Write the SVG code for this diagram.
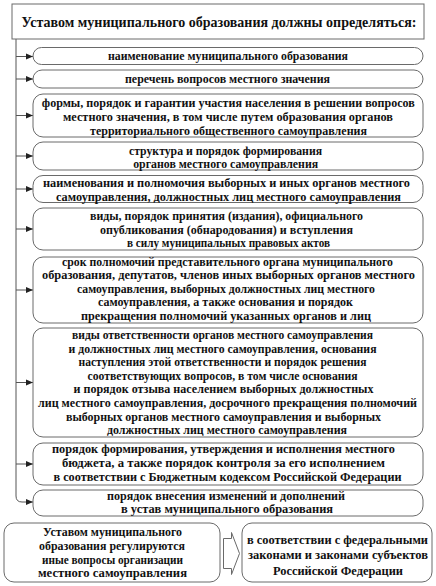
<svg xmlns="http://www.w3.org/2000/svg" width="436" height="586" viewBox="0 0 436 586" font-family="'Liberation Serif', 'Times New Roman', serif">
<defs>
<style>
.b{fill:#fff;stroke:#6a6a6a;stroke-width:1}
.t{font-family:'Liberation Serif','Times New Roman',serif;font-weight:bold;font-size:11.5px;fill:#111;text-anchor:middle}
.h{font-size:14px}
.s{font-size:12px}
.c{fill:none;stroke:#555;stroke-width:1}
</style>
<marker id="ar" markerWidth="8" markerHeight="8" refX="7" refY="4" orient="auto" markerUnits="userSpaceOnUse">
<path d="M0,1 L7,4 L0,7 Z" fill="#222"/>
</marker>
</defs>
<rect width="436" height="586" fill="#fff"/>
<g id="connectors">
<path class="c" d="M16,39 V496 Q16,502 22,502 H33" marker-end="url(#ar)"/>
<path class="c" d="M16,56.5 H33" marker-end="url(#ar)"/>
<path class="c" d="M16,79 H33" marker-end="url(#ar)"/>
<path class="c" d="M16,115.5 H33" marker-end="url(#ar)"/>
<path class="c" d="M16,156 H33" marker-end="url(#ar)"/>
<path class="c" d="M16,189 H33" marker-end="url(#ar)"/>
<path class="c" d="M16,229 H33" marker-end="url(#ar)"/>
<path class="c" d="M16,290 H33" marker-end="url(#ar)"/>
<path class="c" d="M16,382.5 H33" marker-end="url(#ar)"/>
<path class="c" d="M16,464 H33" marker-end="url(#ar)"/>
<path class="b" d="M223.5,538.5 H231.5 V532.5 L239.5,553.5 L231.5,574.5 V568.5 H223.5 Z"/>
</g>
<g id="title">
<rect class="b" x="12" y="4" width="412" height="35"/>
<text class="t h" x="219" y="26.5" textLength="395" lengthAdjust="spacingAndGlyphs">Уставом муниципального образования должны определяться:</text>
</g>
<g id="n1">
<rect class="b" x="33" y="47.5" width="390" height="17" rx="8.5"/>
<text class="t" x="228" y="60" textLength="240" lengthAdjust="spacingAndGlyphs">наименование муниципального образования</text>
</g>
<g id="n2">
<rect class="b" x="33" y="70" width="390" height="18" rx="9"/>
<text class="t" x="227.5" y="83" textLength="205" lengthAdjust="spacingAndGlyphs">перечень вопросов местного значения</text>
</g>
<g id="n3">
<rect class="b" x="33" y="94" width="390" height="43" rx="10"/>
<text class="t" x="228.3" y="107" textLength="373" lengthAdjust="spacingAndGlyphs">формы, порядок и гарантии участия населения в решении вопросов</text>
<text class="t" x="228" y="121" textLength="330" lengthAdjust="spacingAndGlyphs">местного значения, в том числе путем образования органов</text>
<text class="t" x="228.5" y="135" textLength="277" lengthAdjust="spacingAndGlyphs">территориального общественного самоуправления</text>
</g>
<g id="n4">
<rect class="b" x="33" y="142" width="390" height="28" rx="10"/>
<text class="t" x="225.5" y="155" textLength="193" lengthAdjust="spacingAndGlyphs">структура и порядок формирования</text>
<text class="t" x="225.7" y="168" textLength="185" lengthAdjust="spacingAndGlyphs">органов местного самоуправления</text>
</g>
<g id="n5">
<rect class="b" x="33" y="175.5" width="390" height="27" rx="10"/>
<text class="t" x="226.5" y="187" textLength="367" lengthAdjust="spacingAndGlyphs">наименования и полномочия выборных и иных органов местного</text>
<text class="t" x="228.5" y="201" textLength="345" lengthAdjust="spacingAndGlyphs">самоуправления, должностных лиц местного самоуправления</text>
</g>
<g id="n6">
<rect class="b" x="33" y="208" width="390" height="42" rx="10"/>
<text class="t" x="226.5" y="220" textLength="273" lengthAdjust="spacingAndGlyphs">виды, порядок принятия (издания), официального</text>
<text class="t" x="226.5" y="233.5" textLength="253" lengthAdjust="spacingAndGlyphs">опубликования (обнародования) и вступления</text>
<text class="t" x="228.5" y="247" textLength="203" lengthAdjust="spacingAndGlyphs">в силу муниципальных правовых актов</text>
</g>
<g id="n7">
<rect class="b" x="33" y="257" width="390" height="66" rx="10"/>
<text class="t" x="227.5" y="265.5" textLength="331" lengthAdjust="spacingAndGlyphs">срок полномочий представительного органа муниципального</text>
<text class="t" x="228.5" y="279" textLength="373" lengthAdjust="spacingAndGlyphs">образования, депутатов, членов иных выборных органов местного</text>
<text class="t" x="226" y="292.5" textLength="298" lengthAdjust="spacingAndGlyphs">самоуправления, выборных должностных лиц местного</text>
<text class="t" x="225.5" y="306" textLength="255" lengthAdjust="spacingAndGlyphs">самоуправления, а также основания и порядок</text>
<text class="t" x="226" y="319.5" textLength="290" lengthAdjust="spacingAndGlyphs">прекращения полномочий указанных органов и лиц</text>
</g>
<g id="n8">
<rect class="b" x="33" y="328" width="390" height="109" rx="10"/>
<text class="t" x="222.5" y="339" textLength="301" lengthAdjust="spacingAndGlyphs">виды ответственности органов местного самоуправления</text>
<text class="t" x="222.5" y="352.6" textLength="308" lengthAdjust="spacingAndGlyphs">и должностных лиц местного самоуправления, основания</text>
<text class="t" x="222.5" y="366.2" textLength="288" lengthAdjust="spacingAndGlyphs">наступления этой ответственности и порядок решения</text>
<text class="t" x="222.5" y="379.8" textLength="270" lengthAdjust="spacingAndGlyphs">соответствующих вопросов, в том числе основания</text>
<text class="t" x="223.5" y="393.4" textLength="300" lengthAdjust="spacingAndGlyphs">и порядок отзыва населением выборных должностных</text>
<text class="t" x="227.5" y="407" textLength="379" lengthAdjust="spacingAndGlyphs">лиц местного самоуправления, досрочного прекращения полномочий</text>
<text class="t" x="223.5" y="420.6" textLength="315" lengthAdjust="spacingAndGlyphs">выборных органов местного самоуправления и выборных</text>
<text class="t" x="227" y="434.2" textLength="240" lengthAdjust="spacingAndGlyphs">должностных лиц местного самоуправления</text>
</g>
<g id="n9">
<rect class="b" x="33" y="443" width="390" height="42" rx="10"/>
<text class="t" x="223.5" y="453" textLength="343" lengthAdjust="spacingAndGlyphs">порядок формирования, утверждения и исполнения местного</text>
<text class="t" x="223.5" y="467" textLength="323" lengthAdjust="spacingAndGlyphs">бюджета, а также порядок контроля за его исполнением</text>
<text class="t" x="227.5" y="481" textLength="348" lengthAdjust="spacingAndGlyphs">в соответствии с Бюджетным кодексом Российской Федерации</text>
</g>
<g id="n10">
<rect class="b" x="33" y="490" width="390" height="26" rx="10"/>
<text class="t" x="226" y="500" textLength="238" lengthAdjust="spacingAndGlyphs">порядок внесения изменений и дополнений</text>
<text class="t" x="227" y="513" textLength="212" lengthAdjust="spacingAndGlyphs">в устав муниципального образования</text>
</g>
<g id="n11">
<rect class="b" x="4" y="523" width="216" height="59" rx="10"/>
<text class="t s" x="112.5" y="536" textLength="139" lengthAdjust="spacingAndGlyphs">Уставом муниципального</text>
<text class="t s" x="112" y="550" textLength="146" lengthAdjust="spacingAndGlyphs">образования регулируются</text>
<text class="t s" x="112.5" y="564" textLength="141" lengthAdjust="spacingAndGlyphs">иные вопросы организации</text>
<text class="t s" x="112.5" y="577" textLength="149" lengthAdjust="spacingAndGlyphs">местного самоуправления</text>
</g>
<g id="n12">
<rect class="b" x="242" y="523" width="190" height="59" rx="10"/>
<text class="t s" x="337.5" y="544" textLength="181" lengthAdjust="spacingAndGlyphs">в соответствии с федеральными</text>
<text class="t s" x="338" y="559" textLength="180" lengthAdjust="spacingAndGlyphs">законами и законами субъектов</text>
<text class="t s" x="338" y="575" textLength="130" lengthAdjust="spacingAndGlyphs">Российской Федерации</text>
</g>
</svg>
